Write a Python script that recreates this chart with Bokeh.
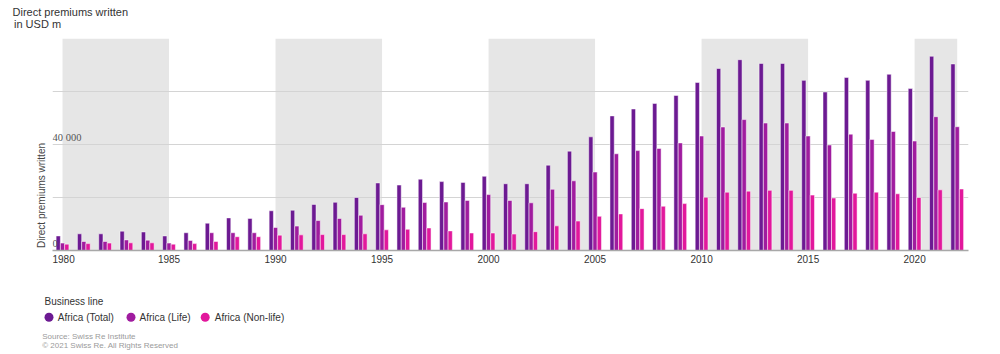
from bokeh.plotting import figure
from bokeh.layouts import column, row
from bokeh.models import (ColumnDataSource, FixedTicker, Label, LabelSet, Range1d)
from bokeh.embed import file_html
from bokeh.resources import INLINE

years = list(range(1980, 2023))
total = [5500, 6300, 6300, 7300, 7000, 5500, 6700, 10300, 12300, 12100,
         15000, 15200, 17400, 18200, 20000, 25500, 24700, 26900, 26000, 25700,
         28000, 25200, 25200, 32200, 37500, 42900, 50800, 53400, 55500, 58500,
         63400, 68700, 72000, 70600, 70600, 64200, 59800, 65300, 64200, 66500,
         61100, 73300, 70400]
life = [2800, 3400, 3400, 4000, 3900, 2800, 3800, 6700, 6700, 6700,
        8700, 9200, 11300, 12100, 13300, 17300, 16300, 18100, 18300, 18900,
        21100, 18900, 18000, 23100, 26300, 29600, 36500, 37700, 38500, 40600,
        43200, 46600, 49400, 48100, 48100, 43200, 39800, 43900, 41900, 44900,
        41300, 50500, 46700]
nonlife = [2400, 2600, 2800, 2900, 2900, 2400, 2600, 3400, 5200, 5200,
           5800, 5900, 6000, 6000, 6300, 7800, 8000, 8500, 7400, 6600,
           6600, 6200, 7100, 9300, 11100, 12900, 13800, 15800, 16700, 17700,
           20100, 22000, 22400, 22700, 22700, 20900, 19800, 21600, 22000, 21400,
           20000, 22900, 23200]

series_names = ["Africa (Total)", "Africa (Life)", "Africa (Non-life)"]
series_colors = ["#6c1a92", "#a01c9f", "#e2189c"]

band_start = [1980, 1990, 2000, 2010, 2020]
band_end = [1985, 1995, 2005, 2015, 2022]

xtick_values = [1980, 1985, 1990, 1995, 2000, 2005, 2010, 2015, 2020]
ygrid_values = [0, 20000, 40000, 60000, 80000]
ytick_values = [0, 40000]
ytick_labels = ["0", "40 000"]

FONT = "Liberation Sans"


def blank(width, height):
    f = figure(width=width, height=height, output_backend="svg", toolbar_location=None,
               x_range=Range1d(0, width), y_range=Range1d(0, height),
               x_axis_location=None, y_axis_location=None,
               min_border_left=0, min_border_right=0, min_border_top=0,
               min_border_bottom=0, outline_line_color=None,
               background_fill_color="white", border_fill_color="white")
    f.grid.visible = False
    return f


def lab(f, x, y, text, size, color="#333333", **kw):
    f.add_layout(Label(x=x, y=y, x_units="screen", y_units="screen", text=text,
                       text_font=FONT, text_font_size=size, text_color=color,
                       text_baseline=kw.pop("text_baseline", "middle"), **kw))


# ---------- header ----------
header = blank(1000, 38)
lab(header, 12, 26.8, "Direct premiums written", "11px")
lab(header, 13.5, 14.8, "in USD m", "11px")

# ---------- left strip with y-axis title ----------
left = blank(52, 234)
lab(left, 46, 55, "Direct premiums written", "10px", "#444444",
    angle=1.5707963, text_align="center", text_baseline="bottom")

# ---------- main chart ----------
p = figure(width=948, height=234, output_backend="svg", toolbar_location=None,
           x_range=Range1d(1979.53, 2022.53), y_range=Range1d(0, 80000),
           y_axis_location=None, min_border_left=0, min_border_right=32,
           min_border_top=0, min_border_bottom=22, outline_line_color=None,
           background_fill_color="white", border_fill_color="white")

bands = ColumnDataSource(dict(left=band_start, right=band_end))
band_r = p.quad(left="left", right="right", bottom=0, top=80000, source=bands,
                fill_color="#e6e6e6", line_color=None)
band_r.level = "image"

p.xgrid.grid_line_color = None
p.ygrid.ticker = FixedTicker(ticks=ygrid_values)
p.ygrid.grid_line_color = "#d4d4d4"
p.ygrid.grid_line_width = 1

src = ColumnDataSource(dict(
    x_total=[y - 0.2 for y in years], x_life=[y + 0.0 for y in years],
    x_non=[y + 0.2 for y in years], total=total, life=life, nonlife=nonlife))

for xcol, ycol, col in [("x_total", "total", series_colors[0]),
                        ("x_life", "life", series_colors[1]),
                        ("x_non", "nonlife", series_colors[2])]:
    p.vbar(x=xcol, top=ycol, bottom=0, width=0.2, source=src,
           fill_color=col, line_color="white", line_width=0.5)

ax = p.xaxis[0]
ax.ticker = FixedTicker(ticks=xtick_values)
ax.major_tick_line_color = None
ax.minor_tick_line_color = None
ax.major_tick_out = 0
ax.major_tick_in = 0
ax.axis_line_color = "#a8a8a8"
ax.axis_line_width = 1.5
ax.major_label_standoff = 4
ax.major_label_text_font = FONT
ax.major_label_text_font_size = "10px"
ax.major_label_text_color = "#333333"

ysrc = ColumnDataSource(dict(y=ytick_values, text=ytick_labels))
p.add_layout(LabelSet(x=0, y="y", text="text", x_units="screen", source=ysrc,
                      y_offset=3.5, text_font=FONT, text_font_size="10.5px",
                      text_color="#555555", text_baseline="alphabetic"))

# ---------- footer with legend and source ----------
footer = blank(1000, 82)
legend_circle_x = [48.5, 130.5, 204.7]
legend_text_x = [57.3, 139.0, 214.3]
legend_y = 37.3
footer.scatter(x=legend_circle_x, y=[legend_y] * 3, marker="circle", size=9,
               fill_color=series_colors, line_color=None)
for tx, name in zip(legend_text_x, series_names):
    lab(footer, tx, legend_y, name, "10px")
lab(footer, 44, 53.2, "Business line", "10px")
lab(footer, 41.7, 18.5, "Source: Swiss Re Institute", "8px", "#9a9a9a")
lab(footer, 41.7, 8.8, "\u00a9 2021 Swiss Re. All Rights Reserved", "8px", "#9a9a9a")

layout = column(header, row(left, p, spacing=0), footer, spacing=0)

open("out.html", "w").write(file_html(layout, INLINE))
